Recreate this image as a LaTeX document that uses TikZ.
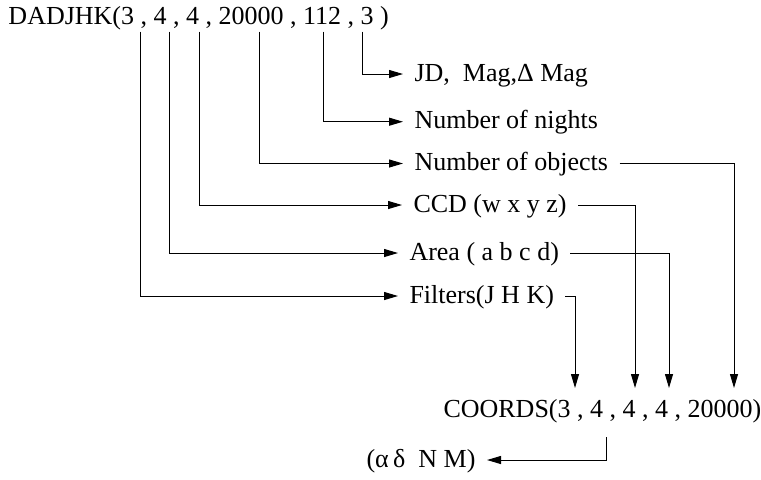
\documentclass[tikz,border=0pt]{standalone}
\usepackage{fontspec}
\setmainfont{Liberation Serif}
\usetikzlibrary{arrows.meta}
\begin{document}
\begin{tikzpicture}[
  x=0.5pt,
  y=-0.5pt,
  font=\fontsize{13pt}{15pt}\selectfont,
  line width=0.5pt,
  >={Triangle[length=7pt,width=4pt]},
  field/.style={inner xsep=5.5pt, inner ysep=0pt, text height=0.7em, text depth=0pt}
]

% White background
\useasboundingbox (0,0) rectangle (761,479);
\fill[white] (0,0) rectangle (761,479);

% Calls
\node[anchor=base west, inner sep=0pt] (dadjhk) at (8,24) {DADJHK(3 , 4 , 4 , 20000 , 112 , 3 )};
\node[anchor=base west, inner sep=0pt] (coords) at (443,417) {COORDS(3 , 4 , 4 , 4 , 20000)};

% Arguments
\node[field, anchor=west] (jd) at (403,74) {JD,~ Mag,Δ Mag};
\node[field, anchor=west] (nights) at (403,121.7) {Number of nights};
\node[field, anchor=west] (objects) at (403,163.5) {Number of objects};
\node[field, anchor=west] (ccd) at (402,205) {CCD (w x y z)};
\node[field, anchor=west] (area) at (398,253) {Area ( a b c d)};
\node[field, anchor=west] (filters) at (398,296) {Filters(J H K)};
\node[field, anchor=east] (radec) at (487,460) {(α\,δ~ N M)};

% From DADJHK to its arguments
\foreach \x/\n in {140/filters,169/area,199/ccd,259/objects,323/nights,362/jd} {
  \coordinate (top-\n) at (\x,31.7);
  \draw[->] (top-\n) |- (\n.west);
}

% Into COORDS
\foreach \x/\n in {575/filters,635/ccd,669/area,734/objects} {
  \coordinate (in-\n) at (\x,388);
  \draw[->] (\n.east) -| (in-\n);
}

% Out of COORDS
\coordinate (out) at (606,437);
\draw[->] (out) |- (radec.east);

\end{tikzpicture}
\end{document}
